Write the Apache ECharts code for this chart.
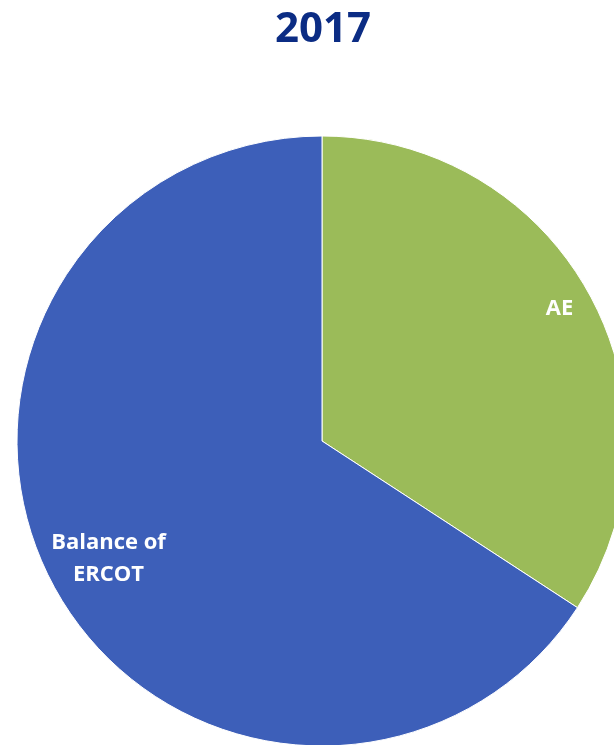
<!DOCTYPE html>
<html><head><meta charset="utf-8">
<script src="https://cdn.jsdelivr.net/npm/echarts@6/dist/echarts.min.js"></script>
<style>html,body{margin:0;padding:0;background:#fff}#c{width:614px;height:745px}</style>
</head><body><div id="c"></div>
<script>
const titleText = '2017';
const categories = ['AE', 'Balance of\nERCOT'];
const values = [34.2, 65.8];
const colors = ['#9BBB59', '#3D5FB9'];
const labelOffsets = [[8, -8], [16, -7]];

const chart = echarts.init(document.getElementById('c'), null, {renderer: 'canvas'});
const data = categories.map((c, i) => ({name: c, value: values[i], itemStyle: {color: colors[i]}}));
chart.setOption({
  animation: false,
  title: {text: titleText, left: 318, textAlign: 'center', top: 4,
    textStyle: {fontFamily: 'Open Sans', fontWeight: 'bold', fontSize: 42, color: '#0B2C84'}},
  series: [
    {type: 'pie', center: [322, 441], radius: [0, 305], startAngle: 90, clockwise: true,
     label: {show: false}, labelLine: {show: false},
     itemStyle: {borderColor: '#fff', borderWidth: 1},
     data: data},
    {type: 'pie', center: [322, 441], radius: [198, 318], startAngle: 90, clockwise: true,
     silent: true, labelLine: {show: false},
     itemStyle: {color: 'transparent'},
     label: {show: true, position: 'inside', color: '#fff', fontFamily: 'Open Sans',
       fontWeight: 'bold', fontSize: 22, lineHeight: 32},
     data: categories.map((c, i) => ({name: c, value: values[i],
       label: {offset: labelOffsets[i]}}))}
  ]
});
</script></body></html>
